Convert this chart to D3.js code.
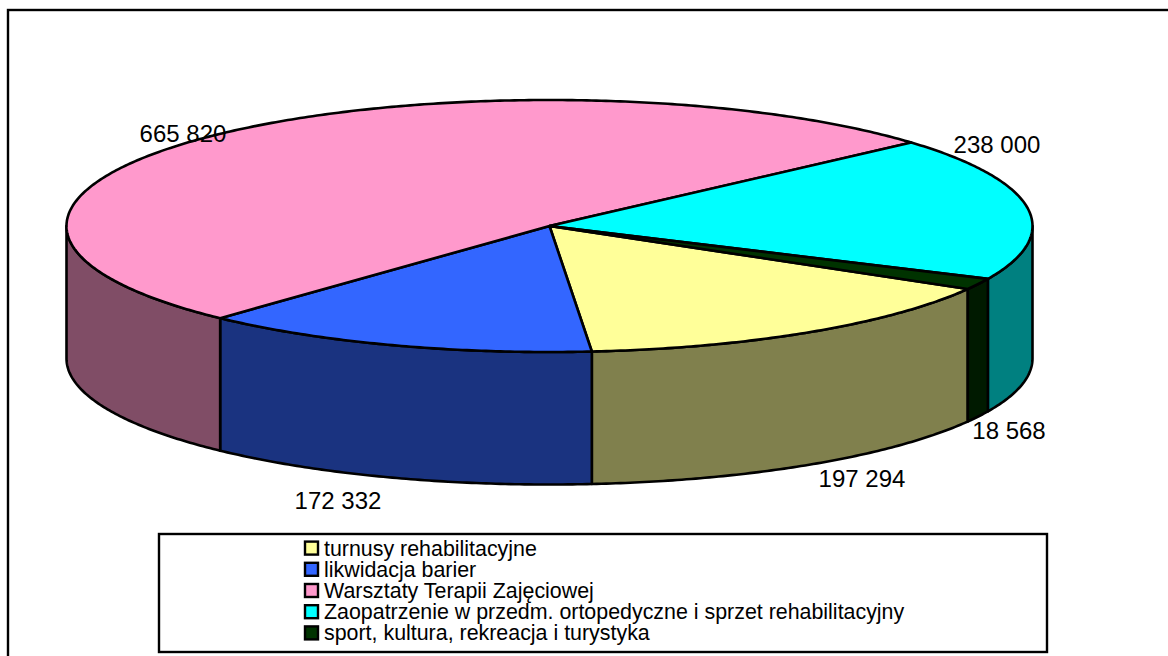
<!DOCTYPE html>
<html><head><meta charset="utf-8">
<script src="https://cdn.jsdelivr.net/npm/d3@7/dist/d3.min.js"></script>
<style>html,body{margin:0;padding:0;background:#fff;overflow:hidden}svg{display:block}text{font-family:"Liberation Sans",Arial,sans-serif;fill:#000}</style>
</head><body><svg id="c" width="1168" height="656"></svg>
<script>
const categories=["turnusy rehabilitacyjne","likwidacja barier","Warsztaty Terapii Zajęciowej","Zaopatrzenie w przedm. ortopedyczne i sprzet rehabilitacyjny","sport, kultura, rekreacja i turystyka"];
const values=[197294,172332,665820,238000,18568];
const valueLabels=["197 294","172 332","665 820","238 000","18 568"];
const topColors=["#ffff99","#3366ff","#ff99cc","#00ffff","#003300"];
const sideColors=["#80804d","#1a3380","#804d66","#008080","#001a00"];
const labelPos=[[862,487],[338,509],[183,142],[997,153],[1009,439]];

const svg=d3.select("#c");
const cx=549.5,cy=226,rx=483,ry=126,depth=132.5;
const X=d3.scaleLinear().domain([-1,1]).range([cx-rx,cx+rx]);
const Y=d3.scaleLinear().domain([-1,1]).range([cy-ry,cy+ry]);
const pie=d3.pie().sort(null).startAngle(Math.PI*2/3).endAngle(Math.PI*2/3+2*Math.PI);
const arcs=pie(values);
const ink="#000";

svg.append("rect").attr("x",8).attr("y",10).attr("width",1200).attr("height",700).attr("fill","#fff").attr("stroke",ink).attr("stroke-width",2.4);

const th=a=>a-Math.PI/2;
const pt=(t,dy=0)=>[X(Math.cos(t)),Y(Math.sin(t))+dy];
function sample(a0,a1,dy=0){const n=Math.max(2,Math.ceil(Math.abs(a1-a0)/0.01));
  return d3.range(n+1).map(i=>pt(a0+(a1-a0)*i/n,dy));}
const line=d3.line();

const sides=svg.append("g");
arcs.forEach((d,i)=>{
  let a0=th(d.startAngle),a1=th(d.endAngle);
  [[0,Math.PI],[2*Math.PI,3*Math.PI]].forEach(([lo,hi])=>{
    const s=Math.max(a0,lo),e=Math.min(a1,hi);
    if(e<=s)return;
    const pts=sample(s,e).concat(sample(e,s,depth));
    sides.append("path").attr("d",line(pts)+"Z").attr("fill",sideColors[i]).attr("stroke",ink).attr("stroke-width",2.6).attr("stroke-linejoin","round");
  });
});
const tops=svg.append("g");
arcs.forEach((d,i)=>{
  const pts=[[cx,cy]].concat(sample(th(d.startAngle),th(d.endAngle)));
  tops.append("path").attr("d",line(pts)+"Z").attr("fill",topColors[i]).attr("stroke",ink).attr("stroke-width",2.6).attr("stroke-linejoin","round");
});
valueLabels.forEach((t,i)=>svg.append("text").attr("x",labelPos[i][0]).attr("y",labelPos[i][1]).attr("text-anchor","middle").attr("font-size",24).text(t));

svg.append("rect").attr("x",159).attr("y",534).attr("width",888).attr("height",118).attr("fill","#fff").attr("stroke",ink).attr("stroke-width",2.4);
const rows=d3.scaleBand().domain(d3.range(categories.length)).range([538,644]);
const lg=svg.append("g").selectAll("g").data(categories).join("g").attr("transform",(d,i)=>`translate(0,${rows(i)+rows.bandwidth()/2})`);
lg.append("rect").attr("x",305).attr("y",-7).attr("width",13).attr("height",13).attr("fill",(d,i)=>topColors[i]).attr("stroke",ink).attr("stroke-width",2.4);
lg.append("text").attr("x",324).attr("y",7).attr("font-size",21.4).text(d=>d);
</script></body></html>
